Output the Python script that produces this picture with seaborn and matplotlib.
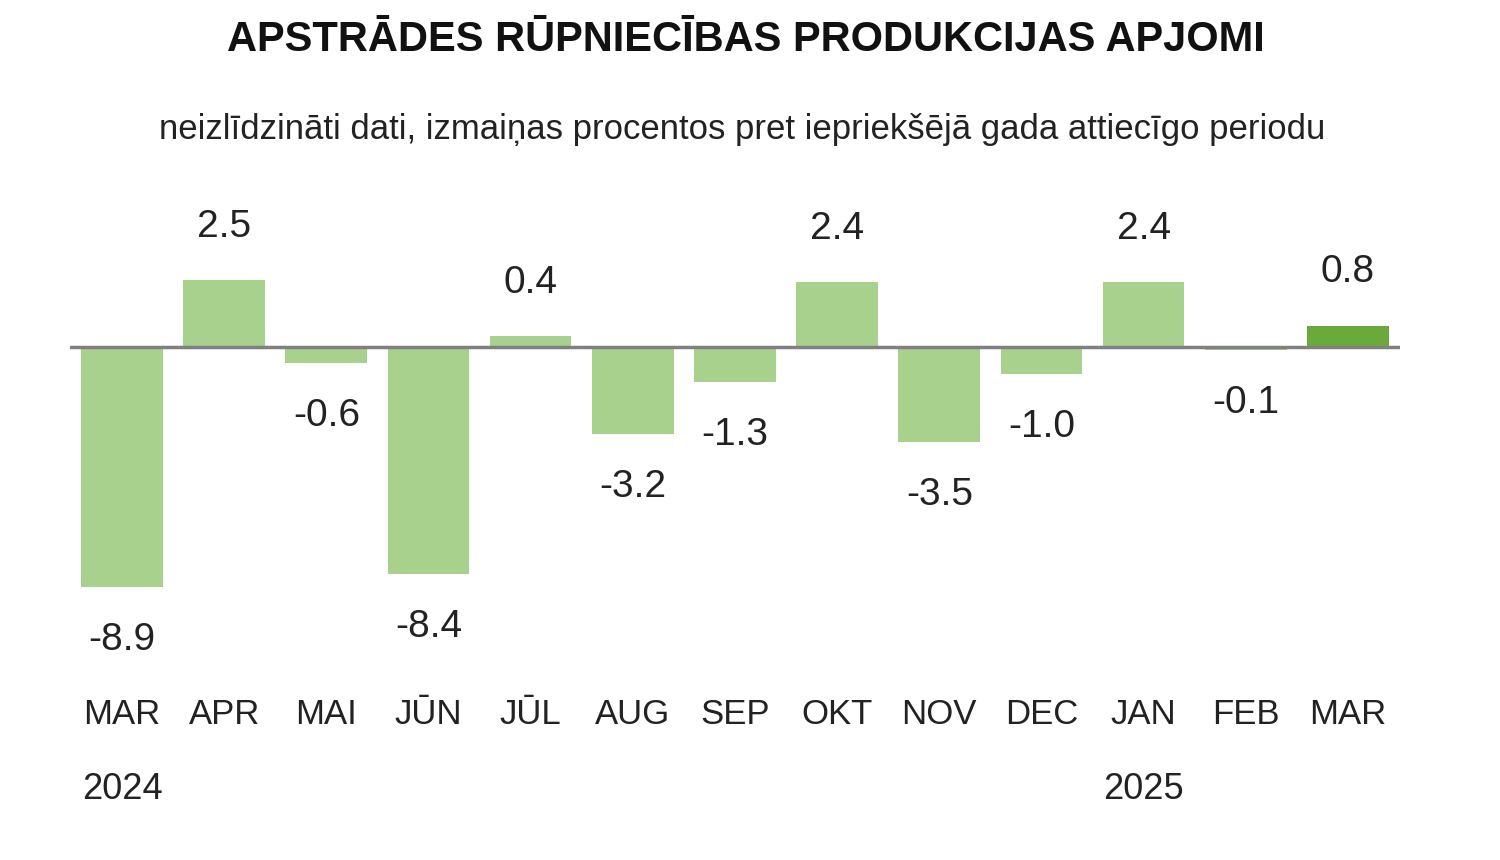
import matplotlib
matplotlib.use("Agg")
import matplotlib.pyplot as plt
import seaborn as sns
import pandas as pd
from matplotlib import font_manager

months = ["MAR", "APR", "MAI", "JŪN", "JŪL", "AUG", "SEP", "OKT", "NOV", "DEC", "JAN", "FEB", "MAR"]
years = {0: "2024", 10: "2025"}
values = [-8.9, 2.5, -0.6, -8.4, 0.4, -3.2, -1.3, 2.4, -3.5, -1.0, 2.4, -0.1, 0.8]
labels = ["-8.9", "2.5", "-0.6", "-8.4", "0.4", "-3.2", "-1.3", "2.4", "-3.5", "-1.0", "2.4", "-0.1", "0.8"]

names = {f.name for f in font_manager.fontManager.ttflist}
fam = "Liberation Sans Narrow" if "Liberation Sans Narrow" in names else "Liberation Sans"

df = pd.DataFrame({"x": list(range(len(values))), "v": values,
                   "c": ["old"] * (len(values) - 1) + ["new"]})

fig = plt.figure(figsize=(15, 8.6), dpi=100)
ax = fig.add_axes([70/1500, 1 - 680/860, 1330/1500, 500/860])
sns.barplot(data=df, x="x", y="v", hue="c", palette={"old": "#a9d18e", "new": "#6aaa3a"},
            width=0.8, dodge=False, legend=False, ax=ax, saturation=1)
ax.set_ylim(-12.33, 6.19)
ax.set_xlim(-0.509, 12.51)
ax.axhline(0, color="#808080", lw=2.5)
ax.axis("off")
for i, (v, l) in enumerate(zip(values, labels)):
    if v >= 0:
        ax.text(i, v + 1.3, l, ha="center", va="bottom", fontsize=28, family=fam, color="#222")
    else:
        ax.text(i, v - 1.3, l, ha="center", va="top", fontsize=28, family=fam, color="#222")
    ax.text(i, -13.6, months[i], ha="center", va="center", fontsize=25, family=fam, color="#222", clip_on=False)
    if i in years:
        ax.text(i, -16.4, years[i], ha="center", va="center", fontsize=26, family=fam, color="#222", clip_on=False)

fig.text(0.497, 1 - 40/860, "APSTRĀDES RŪPNIECĪBAS PRODUKCIJAS APJOMI", ha="center", va="center",
         fontsize=30, fontweight="bold", family=fam, color="#111")
fig.text(0.495, 1 - 130/860, "neizlīdzināti dati, izmaiņas procentos pret iepriekšējā gada attiecīgo periodu",
         ha="center", va="center", fontsize=25, family=fam, color="#222")
fig.savefig("out.png", dpi=100, facecolor="white")
